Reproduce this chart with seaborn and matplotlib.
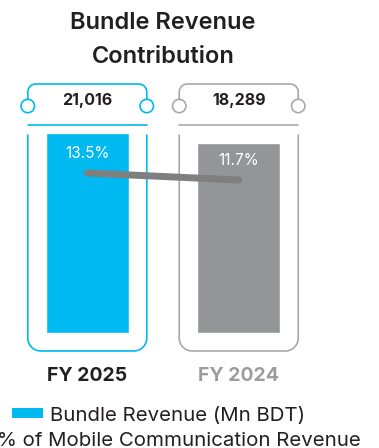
import numpy as np
import pandas as pd
import matplotlib
matplotlib.use('Agg')
import matplotlib.pyplot as plt
import seaborn as sns
from matplotlib.patches import Circle, Rectangle


years = ['FY 2025', 'FY 2024']
bundle_revenue = [21016, 18289]
mobile_share = [13.5, 11.7]
value_labels = ['21,016', '18,289']
share_labels = ['13.5%', '11.7%']

BLUE = '#00b9f1'
GREY_BAR = '#939598'
GREY_FRAME = '#a9a9a9'
LINE_GREY = '#7f7f7f'
DARK = '#231f20'

# the infographic does not start its bars at zero
BAR_BASE = -33524
UNITS_PER_PX = 272.7

sns.set_theme(style='white')
plt.rcParams['font.family'] = ['Inter', 'DejaVu Sans']

W, H = 379, 448
fig = plt.figure(figsize=(W / 100, H / 100), dpi=100)


def px_box(left, top, right, bottom):
    return [left / W, 1 - bottom / H, (right - left) / W, (bottom - top) / H]


# overlay in pixel units for the decorative frames
ov = fig.add_axes([0, 0, 1, 1], zorder=0)
ov.set_xlim(0, W)
ov.set_ylim(H, 0)
ov.axis('off')

ax = fig.add_axes(px_box(4, 80, 322, 360), zorder=1)
ax.patch.set_alpha(0)

df = pd.DataFrame({'year': years, 'revenue': bundle_revenue, 'share': mobile_share})
sns.barplot(data=df, x='year', y='revenue', hue='year',
            palette=[BLUE, GREY_BAR], width=0.545, legend=False,
            saturation=1, ax=ax)
for p in ax.patches:
    p.set_height(p.get_height() - BAR_BASE)
    p.set_y(BAR_BASE)
ax.set_xlim(-0.55, 1.55)
ax.set_ylim(21016 - 227 * UNITS_PER_PX, 21016 + 53 * UNITS_PER_PX)
ax.set_xlabel('')
ax.set_ylabel('')
ax.set_yticks([])
ax.tick_params(axis='x', length=0, pad=5)
for lab, col in zip(ax.get_xticklabels(), [DARK, '#9d9d9d']):
    lab.set_color(col)
    lab.set_fontweight('bold')
    lab.set_fontsize(14)
sns.despine(ax=ax, left=True, bottom=True)

# share line on secondary axis
ax2 = ax.twinx()
ax2.set_ylim(13.5 - 187 / 3.89, 13.5 + 93 / 3.89)
sns.lineplot(x=[0, 1], y=mobile_share, color=LINE_GREY, lw=5,
             solid_capstyle='round', ax=ax2)
for i, (v, t) in enumerate(zip(mobile_share, share_labels)):
    ax2.annotate(t, (i, v), xytext=(0, 14), textcoords='offset points',
                 ha='center', va='center', color='white', fontsize=11)
ax2.set_yticks([])
ax2.set_ylabel('')
sns.despine(ax=ax2, left=True, bottom=True, right=True)

# frames around each bar
fig.canvas.draw()


def arc(cx, cy, r, a0, a1):
    t = np.radians(np.linspace(a0, a1, 20))
    return cx + r * np.cos(t), cy - r * np.sin(t)


half = 59.5
for i, (col, lbl) in enumerate(zip([BLUE, GREY_FRAME], value_labels)):
    cx = ax.transData.transform((i, 0))[0]
    x0, x1 = cx - half, cx + half
    # top bracket
    r = 8
    ax_, ay_ = arc(x0 + r, 84 + r, r, 180, 90)
    bx_, by_ = arc(x1 - r, 84 + r, r, 90, 0)
    xs = np.concatenate([[x0], ax_, bx_, [x1]])
    ys = np.concatenate([[99.5], ay_, by_, [99.5]])
    ov.plot(xs, ys, color=col, lw=1.2)
    for xc in (x0, x1):
        ov.add_patch(Circle((xc, 106), 6.7, fill=False, ec=col, lw=1.2))
    ov.text(cx, 101, lbl, ha='center', va='center', fontsize=11.5,
            fontweight='bold', color=DARK)
    ov.plot([x0, x1], [125, 125], color=col, lw=1.2)
    # lower U frame
    r = 13
    ax_, ay_ = arc(x0 + r, 351 - r, r, 180, 270)
    bx_, by_ = arc(x1 - r, 351 - r, r, 270, 360)
    xs = np.concatenate([[x0], ax_, bx_, [x1]])
    ys = np.concatenate([[135], ay_, by_, [135]])
    ov.plot(xs, ys, color=col, lw=1.2)

# title
ov.text(163, 23, 'Bundle Revenue', ha='center', va='center',
        fontsize=17, fontweight='semibold', color=DARK)
ov.text(163, 57, 'Contribution', ha='center', va='center',
        fontsize=17, fontweight='semibold', color=DARK)

# legend
ov.add_patch(Rectangle((12, 408), 31, 10, color=BLUE, lw=0))
ov.text(50, 420.7, 'Bundle Revenue (Mn BDT)', ha='left', va='baseline',
        fontsize=14.7, color=DARK)
ov.text(-3, 445.5, '% of Mobile Communication Revenue', ha='left', va='baseline',
        fontsize=14.7, color=DARK)

fig.savefig('out.png', dpi=100)
